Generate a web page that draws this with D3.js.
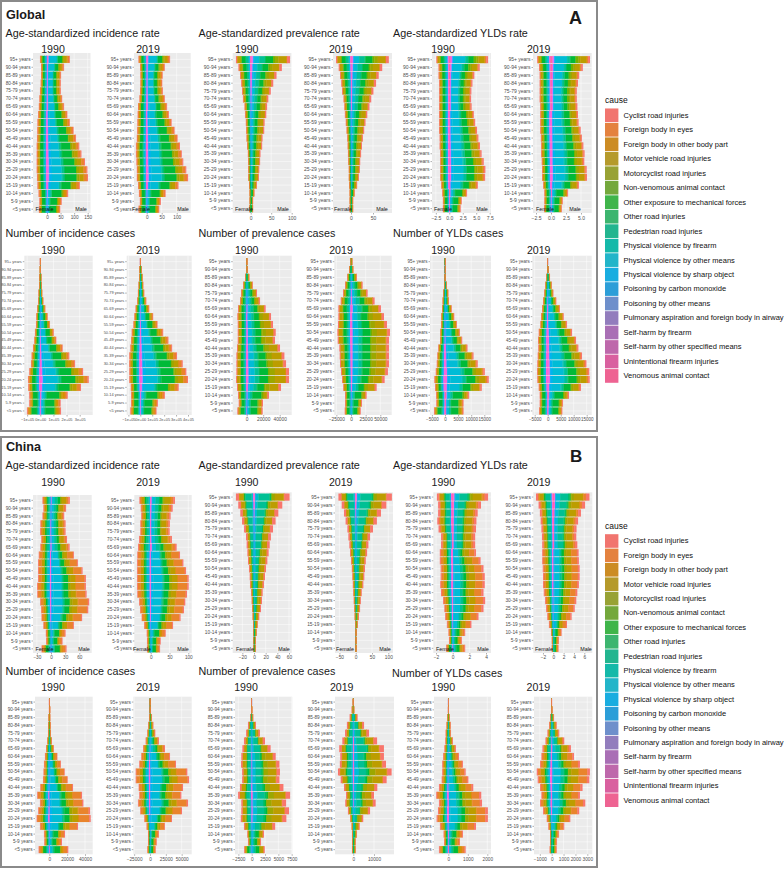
<!DOCTYPE html>
<html>
<head>
<meta charset="utf-8">
<script src="https://cdn.jsdelivr.net/npm/d3@7"></script>
<style>
  html, body { margin: 0; padding: 0; background: #fff; }
  text { font-family: "Liberation Sans", Arial, sans-serif; }
  svg { display: block; }
</style>
</head>
<body>
<div id="my_dataviz"></div>
<script>
// age groups, top to bottom
const ages = ["95+ years","90-94 years","85-89 years","80-84 years","75-79 years","70-74 years","65-69 years",
  "60-64 years","55-59 years","50-54 years","45-49 years","40-44 years","35-39 years","30-34 years",
  "25-29 years","20-24 years","15-19 years","10-14 years","5-9 years","<5 years"];

const causes = ["Cyclist road injuries","Foreign body in eyes","Foreign body in other body part","Motor vehicle road injuries",
  "Motorcyclist road injuries","Non-venomous animal contact","Other exposure to mechanical forces","Other road injuries",
  "Pedestrian road injuries","Physical violence by firearm","Physical violence by other means","Physical violence by sharp object",
  "Poisoning by carbon monoxide","Poisoning by other means","Pulmonary aspiration and foreign body in airway",
  "Self-harm by firearm","Self-harm by other specified means","Unintentional firearm injuries","Venomous animal contact"];

const gIncRate90F = [26,22,22,23,26,28,30,33,35,36,37,38,38,38,38,37,35,31,28,30];
const gIncRate90M = [84,63,52,51,51,56,63,75,84,98,107,119,127,140,149,151,121,78,54,49];
const gIncRate19F = [27,22,21,21,22,24,29,30,31,32,33,36,36,34,33,33,29,26,23,27];
const gIncRate19M = [78,60,53,52,54,60,68,74,83,93,103,111,117,122,132,138,106,63,47,42];
const gPrevRate90F = [36,30,26,23,21,19,15,14,12,11,10,9,7,6.5,6,6,4,2.5,2.5,3];
const gPrevRate90M = [96,76,63,55,49,43,40,38,34,33,29,28,24,23,21,20,15,9,6,6];
const gPrevRate19F = [34,28,25,22,20,17,15,14,12,10,8,7.5,7,6,5,5,4,3,3,3];
const gPrevRate19M = [86,71,63,57,51,46,42,37,33,30,27,25,23,21,20,18,14,8,5,5];
const gYldRate90F = [2.4,2.0,2.0,1.9,1.9,1.9,1.9,1.9,1.9,1.9,1.8,1.8,1.7,1.7,1.7,1.7,1.5,1.3,1.2,1.2];
const gYldRate90M = [7.2,5.65,4.65,4.3,4.1,4.05,4.15,4.55,4.8,5.15,5.4,5.7,6.0,6.4,6.7,6.65,5.3,3.3,2.3,2.1];
const gYldRate19F = [2.3,2.0,1.9,1.9,1.9,1.9,1.8,1.8,1.8,1.8,1.7,1.65,1.65,1.55,1.5,1.5,1.3,1.1,1.1,1.15];
const gYldRate19M = [6.5,5.3,4.7,4.5,4.3,4.3,4.4,4.5,4.6,4.95,5.15,5.4,5.6,5.55,5.95,6.0,4.65,2.85,1.95,1.8];
const gIncNum90F = [3,4,7,8,13,15,23,30,33,41,46,56,66,71,84,94,92,84,84,102];
const gIncNum90M = [3,5,8,10,15,23,38,56,74,102,122,170,221,265,326,369,310,209,155,158];
const gIncNum19F = [3,6,8,14,20,25,39,50,58,72,78,83,92,94,92,92,80,78,78,83];
const gIncNum19M = [3,11,19,25,33,50,75,108,144,192,236,267,308,356,386,400,322,206,147,136];
const gPrevNum90F = [.4,.8,2,4.4,6.9,8.1,10.5,11.3,10.9,10.9,10.9,11.7,12.5,12.5,12.5,12.9,11.7,10.5,9.7,11.3];
const gPrevNum90M = [.8,1.6,3.2,7.3,12.5,16.2,23,29.5,31.9,35.2,34.3,40.4,45.7,47.7,51.3,51.3,41.6,27,19.8,19.4];
const gPrevNum19F = [1.1,3.4,6.3,10.2,13.6,17.6,21.6,21.6,22.2,23.3,22.7,19.9,19.3,18.8,17,15.3,13.1,10.2,10.2,10.8];
const gPrevNum19M = [2.3,4,10.2,19.9,28.4,40.3,51.1,56.3,61.4,66.5,64.8,64.8,64.8,64.8,63,57.4,43.8,26.7,18.8,16.5];
const gYldNum90F = [.03,.06,.12,.38,.63,.89,1.14,1.4,1.52,1.77,1.9,2.53,2.91,3.16,3.54,4.05,3.8,3.42,3.29,4.18];
const gYldNum90M = [.13,.25,.38,.76,1.27,1.52,2.53,3.54,4.56,5.7,6.58,8.6,10.9,12.5,15.2,16.7,14.05,9.24,7.09,7.09];
const gYldNum19F = [.06,.26,.51,.9,1.28,1.79,2.18,2.56,2.82,3.46,3.72,3.59,3.85,3.97,4.1,3.97,3.46,3.08,3.08,3.33];
const gYldNum19M = [.13,.38,.9,1.54,2.18,3.33,4.74,6.15,7.44,9.36,10.9,11.8,13.2,14.9,16,16.15,12.8,8.2,5.9,5.64];

const cIncRate90F = [18,16,18,22.5,23,20.5,22.5,26,27.5,27.5,27.5,29.5,29,23,21,20,16,11,10.5,20];
const cIncRate90M = [40,32,28,31,31,34,39.5,48.5,57,67,74,74,75.5,81,79,66,48.5,31,24.5,33];
const cIncRate19F = [30,26.5,25,27.5,27.5,31,33.5,35.5,36.5,36.5,36.5,36.5,35.5,31,28.5,24,17.5,10.5,10,10];
const cIncRate19M = [64.5,58.5,53,51,50.5,56.5,69,78,87,94,101,101,96.5,92,88.5,79.5,59.5,40,26.5,25];
const cPrevRate90F = [31,27,23.5,20.5,17,13.7,12.6,11.4,10.3,8.6,7.4,6.9,5.1,4,3.4,2.3,1.7,1.1,.6,.6];
const cPrevRate90M = [61,48.5,41.7,37,32.6,29,26.9,25.1,22.9,20.6,18.9,17.1,14.9,13.7,12,9.1,6.3,4.6,3.4,3.4];
const cPrevRate19F = [53,43,36,31,25.5,22.5,19.5,17.5,14.5,12,10,9,7,6,4,3,2,1,1,1];
const cPrevRate19M = [111,94,77.5,65,53,44,39,35,31,28.5,26.5,23.5,18.5,15.5,13.5,10,7,4,3,3];
const cYldRate90F = [1.9,1.75,1.75,1.85,1.7,1.4,1.4,1.55,1.55,1.45,1.45,1.5,1.4,1.15,1,.9,.7,.5,.45,.8];
const cYldRate90M = [4.25,3.4,3,2.85,2.8,2.7,2.7,2.8,3.35,3.7,3.85,3.85,3.7,3.9,3.7,3.1,2.25,1.5,1.1,1.5];
const cYldRate19F = [3.35,2.85,2.6,2.45,2.3,2.2,2.15,2.15,2.15,2.05,2,2,1.85,1.6,1.4,1.15,.85,.45,.3,.3];
const cYldRate19M = [7,6.15,5.35,4.8,4.5,4.45,4.65,4.9,4.95,5.1,5.1,4.95,4.65,4.45,4.15,3.55,2.65,1.6,1.1,1];
const cIncNum90F = [.4,.4,.75,1.1,1.5,2.2,3.7,4.9,6,6.4,7.1,10.1,13.5,10.5,12.4,14.2,10.5,6,5.6,12];
const cIncNum90M = [.75,1.1,1.1,1.5,1.9,3,5.2,9,13.1,17.2,20.6,26.6,36.7,38.2,45.7,46.4,32.2,17.6,14.2,21.3];
const cIncNum19F = [.5,.5,1.6,2.6,4.2,6.8,11,13.7,16.8,22.6,22.6,17.9,16.8,19,15.3,8.9,5.3,3.2,3.2,4.2];
const cIncNum19M = [1,1.6,3.2,5.3,8.4,14.2,23.7,31.6,41,58.9,61.6,52.1,49.5,60,50.5,34.7,23.7,14.2,10.5,8.9];
const cPrevNum90F = [.06,.12,.3,.7,1.05,1.45,1.75,1.95,2,1.8,1.8,2.2,2.55,1.95,1.95,2.05,1.45,.8,.7,1.4];
const cPrevNum90M = [.06,.12,.3,.8,1.55,2.5,3.55,4.5,5.2,5.3,5.2,5.95,7.2,6.45,7,6.5,4.4,2.3,1.75,2.45];
const cPrevNum19F = [.3,.8,1.8,3.1,4,5.3,6.8,6.3,6.5,7.4,6.1,4.5,3.5,3.9,2.6,1.5,.8,.65,.5,.65];
const cPrevNum19M = [.3,.5,2.1,5.2,7.6,11.5,14.8,14.8,15.8,18.5,16.1,11.6,10,10.8,8.1,4.8,3.1,1.8,1.1,1.1];
const cYldNum90F = [.01,.02,.05,.09,.14,.15,.2,.27,.31,.31,.34,.48,.62,.48,.53,.6,.43,.24,.22,.48];
const cYldNum90M = [.02,.03,.07,.12,.14,.24,.39,.55,.75,.89,1.03,1.28,1.69,1.73,2.03,2.03,1.42,.75,.6,.89];
const cYldNum19F = [.03,.06,.14,.22,.36,.53,.78,.87,.98,1.26,1.18,.98,.87,.98,.73,.42,.28,.14,.14,.17];
const cYldNum19M = [.03,.06,.2,.42,.64,1.06,1.62,1.88,2.38,3.22,3.17,2.6,2.38,2.83,2.32,1.57,1.06,.62,.45,.42];

// Cause mix (percent, legend order) estimated from the colour bands, one row
// per measure, sex and age band (old = 65+, adult = 15-64, young = under 15).
const gIncMOld   = [2,7,4,11,4,5,18,2,3,.5,30,4,.3,1.5,1,.2,3,.2,4];
const gIncMAdult = [2,7,1.5,10,5,2,28,3,4,1.5,24,6,.2,1,.3,.1,3.5,.4,1];
const gIncMYoung = [3,7,8,5,2,5,45,3,5,.3,8,2,.1,2.5,1.5,0,.1,.4,2.5];
const gIncFOld   = [1,7,5,10,2,5,25,3,6,.2,18,1,.2,2,2,0,5,.1,5];
const gIncFAdult = [2,8,3,12,3,4,27,4,6,.5,13,2,.3,2,1,.1,9,.1,3];
const gIncFYoung = [3,6,10,6,2,5,40,3,6,.2,7,1,.1,3,2,0,.2,.2,5];
const gPrevMOld   = [7,.5,2,20,9,5,19,3,14,1,11,3,.1,1,1,.2,3,.3,2.5];
const gPrevMAdult = [6,.5,2,24,12,4,19,3,8,1.5,10,3,.1,.5,.2,.2,3,.3,1.5];
const gPrevMYoung = [5,1,3,12,4,6,38,3,8,.2,8,1,.1,1,1,0,.1,.2,4];
const gPrevFOld   = [5,.5,3,18,4,6,25,3,15,.2,7,1,.1,1,1,.1,4,.1,4];
const gPrevFAdult = [5,.5,2.5,22,5,5,22,3,10,.3,8,1,.1,1,.3,.1,6,.1,3];
const gPrevFYoung = [5,1,4,12,3,6,36,3,9,.1,7,.5,.1,1.5,1.5,0,.2,.1,6];
const gYldMOld   = [4,3,2,15,5,7,13,2,6,1,28,3,.2,1,1,.2,3,.3,4];
const gYldMAdult = [3,3,1.5,14,6,3,20,2,6,3,26,6,.2,.7,.2,.2,3.5,.5,1.5];
const gYldMYoung = [3,3,4,8,2,6,38,3,8,.3,10,2,.1,2,2,0,.1,.4,6];
const gYldFOld   = [3,3,3,14,2,7,22,2,10,.3,12,1,.2,1.5,1.5,0,8,.1,7];
const gYldFAdult = [3,3.5,2,16,3,5,20,3,7,.8,12,2,.3,1.5,.5,.1,15,.1,4];
const gYldFYoung = [3,3,5,9,2,6,33,3,8,.2,9,1,.1,3,3,0,.2,.2,8];
const cIncMOld   = [6,10,4,22,6,3,12,3,14,0,14,1,.3,.5,1,0,2,0,3];
const cIncMAdult = [3,25,2,13,6,1.5,12,3,3,.1,24,5,.2,.3,.1,0,1,.1,.7];
const cIncMYoung = [5,18,8,6,3,2,30,3,7,0,11,1,.2,1,1,0,.1,.1,3];
const cIncFOld   = [4,10,5,18,3,3,12,4,18,0,8,.5,.3,1,1,0,6,0,3];
const cIncFAdult = [3,22,3,15,4,2,10,3,6,0,14,2,.3,.5,.2,0,10,0,2];
const cIncFYoung = [4,15,8,8,3,2,25,3,10,0,9,.5,.2,2,2,0,.3,0,6];
const cPrevMOld   = [14,.5,2,24,8,1.5,2,4,30,0,8,.5,.1,.3,.5,0,2,0,2];
const cPrevMAdult = [10,1,2,28,14,1.5,4,5,18,.1,10,1,.1,.3,.2,0,2,0,1.5];
const cPrevMYoung = [6,1,4,18,8,3,25,5,12,0,10,1,.1,1,1,0,.2,0,4];
const cPrevFOld   = [15,.5,2,20,4,2,4,4,33,0,6,.3,.1,.3,.5,0,4,0,3];
const cPrevFAdult = [10,1,3,28,7,2,6,5,22,0,7,.5,.1,.3,.2,0,6,0,2];
const cPrevFYoung = [6,1,5,16,5,3,26,5,14,0,8,.5,.1,1.5,1.5,0,.3,0,6];
const cYldMOld   = [9,7,2,25,7,2,3,4,22,0,12,1,.2,.3,.5,0,3,0,3];
const cYldMAdult = [6,22,2,18,8,1,8,3,7,.1,19,2.5,.2,.3,.2,0,1.5,0,1];
const cYldMYoung = [5,15,7,10,4,2,26,4,9,0,9,.5,.2,1,2,0,.2,0,5];
const cYldFOld   = [10,6,3,20,4,3,5,4,25,0,6,.3,.2,.3,.5,0,8,0,5];
const cYldFAdult = [6,18,3,20,4,2,8,3,10,0,9,.8,.3,.5,.2,0,13,0,2.5];
const cYldFYoung = [5,12,8,10,3,2,22,4,11,0,7,.3,.2,2,3,0,.3,0,9];

const causeColors = ["#F8766D","#E9842C","#D69100","#BC9D00","#9CA700","#6FB100","#00BA38","#00BE6C","#00C094","#00C0B7",
  "#00BCD6","#00B4EF","#00A8FF","#7F96FF","#BC81FF","#E26EF7","#F863DF","#FF62BF","#FF6A9A"];
// the legend keys are visibly duller than the bars
const legendColors = ["#F1756F","#E4823F","#CC8C24","#B59A2B","#98A234","#74A83C","#3FB54A","#3CB56F","#22B58F","#14B9A9",
  "#22B5C9","#19ADE0","#2C9ED8","#6E8FCB","#927DBD","#A96FB5","#BE68AB","#D9609F","#EE6392"];

// page layout
const svg = d3.select("#my_dataviz").append("svg").attr("width", 784).attr("height", 869);

svg.append("rect").attr("x", 1).attr("y", 1).attr("width", 596).attr("height", 430)
  .attr("fill", "none").attr("stroke", "#8a8a8a").attr("stroke-width", 2);
svg.append("rect").attr("x", 1).attr("y", 437).attr("width", 596).attr("height", 430)
  .attr("fill", "none").attr("stroke", "#8a8a8a").attr("stroke-width", 2);

const sectionSize = 10.75;
const headings = [
  ["Global", 6, 19, 12.6, "bold"], ["China", 6, 451, 12.6, "bold"],
  ["A", 569, 24, 18, "bold"], ["B", 570, 462, 17, "bold"],
  ["Age-standardized incidence rate", 5.5, 37, sectionSize], ["Age-standardized prevalence rate", 198.5, 37, sectionSize], ["Age-standardized YLDs rate", 393, 37, sectionSize],
  ["Number of incidence cases", 5.5, 237, sectionSize], ["Number of prevalence cases", 198.5, 237, sectionSize], ["Number of YLDs cases", 393, 237, sectionSize],
  ["Age-standardized incidence rate", 5.5, 469, sectionSize], ["Age-standardized prevalence rate", 198.5, 469, sectionSize], ["Age-standardized YLDs rate", 393, 469, sectionSize],
  ["Number of incidence cases", 5.5, 675, sectionSize], ["Number of prevalence cases", 198.5, 675, sectionSize], ["Number of YLDs cases", 392, 677, sectionSize]
];
svg.selectAll("text.heading").data(headings).join("text").attr("class", "heading")
  .attr("x", d => d[1]).attr("y", d => d[2]).attr("font-size", d => d[3])
  .attr("font-weight", d => d[4] || "normal").attr("fill", "#1a1a1a").text(d => d[0]);

const fmtPlain = d => String(d).replace("-", "\u2212");
const fmtFixed = d => d3.format(".1f")(d).replace("-", "\u2212");
const fmtSci = d => (d === 0 ? "0e+00" : fmtPlain(d / 1e5) + "e+05");

// one entry per panel: pixel box, zero position and a reference tick set the x scale
const panels = [
  // Global, rates
  {f:gIncRate90F, m:gIncRate90M, mix:"gInc", yr:1990, bx:[33,90.5], by:[53,213], cy:[59,209.6], zero:47, ref:[150,87.7], ticks:[0,50,100,150], tx:53, ty:53, sf:4.7, lab:[44.5,81]},
  {f:gIncRate19F, m:gIncRate19M, mix:"gInc", yr:2019, bx:[134,190.7], by:[53,213], cy:[59,209.6], zero:146.7, ref:[100,176.7], ticks:[0,50,100], tx:148, ty:53, sf:4.7, lab:[141,183]},
  {f:gPrevRate90F, m:gPrevRate90M, mix:"gPrev", yr:1990, bx:[232.7,291.7], by:[53,213], cy:[59.3,209], zero:250.7, ref:[100,291.7], ticks:[0,50,100], tx:246.7, ty:53, sf:5, lab:[244,283]},
  {f:gPrevRate19F, m:gPrevRate19M, mix:"gPrev", yr:2019, bx:[333,392], by:[53,213], cy:[59.3,209], zero:351, ref:[50,373], ticks:[0,50], tx:340.7, ty:53, sf:5, lab:[343,382]},
  {f:gYldRate90F, m:gYldRate90M, mix:"gYld", yr:1990, bx:[432,491], by:[53,213], cy:[59.3,209], zero:449.3, ref:[7.5,489.7], ticks:[-2.5,0,2.5,5,7.5], tx:443, ty:53, sf:5, lab:[443,482], fmt:fmtFixed},
  {f:gYldRate19F, m:gYldRate19M, mix:"gYld", yr:2019, bx:[533,591.7], by:[53,213], cy:[59.3,209], zero:551, ref:[5,581], ticks:[-2.5,0,2.5,5], tx:538.7, ty:53, sf:5, lab:[545,575], fmt:fmtFixed},
  // Global, numbers
  {f:gIncNum90F, m:gIncNum90M, mix:"gInc", yr:1990, unit:1000, bx:[24.3,92.7], by:[255.7,415], cy:[261.3,411.3], zero:40.3, ref:[300000,79.7], ticks:[-100000,0,100000,200000,300000], tx:53, ty:253.5, sf:3.9, fmt:fmtSci},
  {f:gIncNum19F, m:gIncNum19M, mix:"gInc", yr:2019, unit:1000, bx:[126.7,191.7], by:[255.7,415], cy:[261.3,411.3], zero:140.3, ref:[400000,188], ticks:[-100000,0,100000,200000,300000,400000], tx:148, ty:253.5, sf:3.9, fmt:fmtSci},
  {f:gPrevNum90F, m:gPrevNum90M, mix:"gPrev", yr:1990, unit:1000, bx:[232.7,291.7], by:[255.7,415], cy:[261.3,411.3], zero:246.7, ref:[40000,279.7], ticks:[0,20000,40000], tx:246.7, ty:253.5, sf:4.8},
  {f:gPrevNum19F, m:gPrevNum19M, mix:"gPrev", yr:2019, unit:1000, bx:[334.3,391.7], by:[255.7,415], cy:[261.3,411.3], zero:351, ref:[50000,380.3], ticks:[-25000,0,25000,50000], tx:341, ty:253.5, sf:4.8},
  {f:gYldNum90F, m:gYldNum90M, mix:"gYld", yr:1990, unit:1000, bx:[430,491], by:[255.7,415], cy:[261.3,411.3], zero:445, ref:[15000,484.3], ticks:[-5000,0,5000,10000,15000], tx:443, ty:253.5, sf:4.5},
  {f:gYldNum19F, m:gYldNum19M, mix:"gYld", yr:2019, unit:1000, bx:[532.3,591.7], by:[255.7,415], cy:[261.3,411.3], zero:547.7, ref:[15000,586.7], ticks:[-5000,0,5000,10000,15000], tx:538.7, ty:253.5, sf:4.5},
  // China, rates
  {f:cIncRate90F, m:cIncRate90M, mix:"cInc", yr:1990, bx:[33,91.7], by:[495,653], cy:[500,649.2], zero:51, ref:[60,79.3], ticks:[-30,0,30,60], tx:53, ty:486, sf:4.7, lab:[44.5,84]},
  {f:cIncRate19F, m:cIncRate19M, mix:"cInc", yr:2019, bx:[134.3,191.7], by:[495,653], cy:[500,649.2], zero:150.7, ref:[100,188.3], ticks:[0,50,100], tx:148, ty:486, sf:4.7, lab:[142,183]},
  {f:cPrevRate90F, m:cPrevRate90M, mix:"cPrev", yr:1990, bx:[232.7,291.7], by:[492.3,653], cy:[496.7,648.7], zero:254, ref:[60,289], ticks:[-20,0,20,40,60], tx:246.7, ty:486, sf:4.8, lab:[245,284]},
  {f:cPrevRate19F, m:cPrevRate19M, mix:"cPrev", yr:2019, bx:[335,393], by:[492.3,653], cy:[496.7,648.7], zero:355.7, ref:[100,388.3], ticks:[-50,0,50,100], tx:340.7, ty:486, sf:4.8, lab:[345,385]},
  {f:cYldRate90F, m:cYldRate90M, mix:"cYld", yr:1990, bx:[433.3,491], by:[492.3,653], cy:[496.7,648.7], zero:452.7, ref:[4,486], ticks:[-2,0,2,4], tx:443.3, ty:485.5, sf:4.8, lab:[445,483]},
  {f:cYldRate19F, m:cYldRate19M, mix:"cYld", yr:2019, bx:[533.3,592.3], by:[492.3,653], cy:[496.7,648.7], zero:553.3, ref:[6,584.3], ticks:[-2,0,2,4,6], tx:538.7, ty:485.5, sf:4.8, lab:[544,586]},
  // China, numbers
  {f:cIncNum90F, m:cIncNum90M, mix:"cInc", yr:1990, unit:1000, bx:[35,92.7], by:[696.7,854.3], cy:[701.7,850], zero:49.3, ref:[40000,85], ticks:[0,20000,40000], tx:53, ty:691, sf:4.7},
  {f:cIncNum19F, m:cIncNum19M, mix:"cInc", yr:2019, unit:1000, bx:[133.3,191.7], by:[696.7,854.3], cy:[701.7,850], zero:150, ref:[50000,181.7], ticks:[-25000,0,25000,50000], tx:148, ty:691, sf:4.7},
  {f:cPrevNum90F, m:cPrevNum90M, mix:"cPrev", yr:1990, unit:1000, bx:[235,292.3], by:[696.7,854.3], cy:[701.7,850], zero:251.7, ref:[7500,291.7], ticks:[-2500,0,2500,5000,7500], tx:246, ty:691, sf:4.7},
  {f:cPrevNum19F, m:cPrevNum19M, mix:"cPrev", yr:2019, unit:1000, bx:[335,394], by:[696.7,854.3], cy:[701.7,850], zero:353.3, ref:[10000,374], ticks:[0,10000], tx:341.7, ty:691, sf:4.7},
  {f:cYldNum90F, m:cYldNum90M, mix:"cYld", yr:1990, unit:1000, bx:[434,491], by:[696.7,854.3], cy:[701.7,850], zero:448.3, ref:[2000,487.3], ticks:[0,1000,2000], tx:443.3, ty:691, sf:4.7},
  {f:cYldNum19F, m:cYldNum19M, mix:"cYld", yr:2019, unit:1000, bx:[534,592.3], by:[696.7,854.3], cy:[701.7,850], zero:551.7, ref:[3000,587.3], ticks:[-1000,0,1000,2000,3000], tx:538.3, ty:691, sf:4.7}
];

const mixes = {
  gIncM:[gIncMOld,gIncMAdult,gIncMYoung], gIncF:[gIncFOld,gIncFAdult,gIncFYoung],
  gPrevM:[gPrevMOld,gPrevMAdult,gPrevMYoung], gPrevF:[gPrevFOld,gPrevFAdult,gPrevFYoung],
  gYldM:[gYldMOld,gYldMAdult,gYldMYoung], gYldF:[gYldFOld,gYldFAdult,gYldFYoung],
  cIncM:[cIncMOld,cIncMAdult,cIncMYoung], cIncF:[cIncFOld,cIncFAdult,cIncFYoung],
  cPrevM:[cPrevMOld,cPrevMAdult,cPrevMYoung], cPrevF:[cPrevFOld,cPrevFAdult,cPrevFYoung],
  cYldM:[cYldMOld,cYldMAdult,cYldMYoung], cYldF:[cYldFOld,cYldFAdult,cYldFYoung]
};
const band = i => (i <= 6 ? 0 : i <= 16 ? 1 : 2);

// stack order: Venomous next to the zero line, Cyclist at the outer end
const stack = d3.stack().keys(causes.slice().reverse()).offset(d3.stackOffsetDiverging);

function splitRow(age, i, total, sign, mixRows, unit) {
  const mix = mixRows[band(i)], sum = d3.sum(mix), row = {age};
  causes.forEach((c, k) => { row[c] = sign * total * unit * mix[k] / sum; });
  return row;
}

// each segment reaches a little under its inner neighbour so no seam shows
const seam = 0.35;

panels.forEach(p => {
  const unit = p.unit || 1;
  const g = svg.append("g");
  const x = d3.scaleLinear().domain([0, p.ref[0]]).range([p.zero, p.ref[1]]);
  const step = (p.cy[1] - p.cy[0]) / (ages.length - 1);
  const y = d3.scaleBand().domain(ages).range([p.cy[0] - step / 2, p.cy[1] + step / 2]).padding(0.1);

  g.append("text").attr("x", p.tx).attr("y", p.ty).attr("text-anchor", "middle")
    .attr("font-size", 10.6).attr("fill", "#222").text(p.yr);

  // grey panel and white grid
  g.append("rect").attr("x", p.bx[0]).attr("y", p.by[0])
    .attr("width", p.bx[1] - p.bx[0]).attr("height", p.by[1] - p.by[0]).attr("fill", "#EBEBEB");
  g.selectAll("line.gx").data(p.ticks).join("line").attr("class", "gx")
    .attr("x1", d => x(d)).attr("x2", d => x(d)).attr("y1", p.by[0]).attr("y2", p.by[1])
    .attr("stroke", "#fff").attr("stroke-width", 0.5);
  g.selectAll("line.gy").data(ages).join("line").attr("class", "gy")
    .attr("x1", p.bx[0]).attr("x2", p.bx[1])
    .attr("y1", d => y(d) + y.bandwidth() / 2).attr("y2", d => y(d) + y.bandwidth() / 2)
    .attr("stroke", "#fff").attr("stroke-width", 0.5);

  const rows = [];
  ages.forEach((a, i) => {
    rows.push(splitRow(a, i, p.f[i], -1, mixes[p.mix + "F"], unit));
    rows.push(splitRow(a, i, p.m[i], 1, mixes[p.mix + "M"], unit));
  });

  g.selectAll("g.cause").data(stack(rows)).join("g").attr("class", "cause")
    .attr("fill", d => causeColors[causes.indexOf(d.key)])
    .selectAll("rect").data(d => d).join("rect")
      .attr("x", d => x(Math.min(d[0], d[1])) - (d[1] > 0 ? seam : 0))
      .attr("width", d => (d[1] === d[0] ? 0 : Math.abs(x(d[1]) - x(d[0])) + seam))
      .attr("y", d => y(d.data.age))
      .attr("height", y.bandwidth());

  // axes
  const xAxis = g.append("g").attr("transform", `translate(0,${p.by[1]})`)
    .call(d3.axisBottom(x).tickValues(p.ticks).tickFormat(p.fmt || fmtPlain).tickSize(1.5).tickPadding(1.5));
  const yAxis = g.append("g").attr("transform", `translate(${p.bx[0]},0)`)
    .call(d3.axisLeft(y).tickSize(1.5).tickPadding(1));
  [xAxis, yAxis].forEach(a => {
    a.select(".domain").remove();
    a.selectAll("line").attr("stroke", "#333").attr("stroke-width", 0.4);
    a.selectAll("text").attr("fill", "#4D4D4D").attr("font-size", p.sf).attr("font-family", '"Liberation Sans", Arial, sans-serif');
  });

  // Female / Male labels on the top row of each figure
  if (p.lab) {
    ["Female", "Male"].forEach((s, i) => {
      g.append("text").attr("x", p.lab[i]).attr("y", p.cy[1] + 1.8).attr("text-anchor", "middle")
        .attr("font-size", 5.4).attr("fill", "#111").text(s);
    });
  }
});

// legends
[[100, 115.3, 14.48], [526, 541, 14.4]].forEach(([titleY, y0, dy]) => {
  const lg = svg.append("g");
  lg.append("text").attr("x", 605).attr("y", titleY + 3).attr("font-size", 8.5).attr("fill", "#111").text("cause");
  causes.forEach((c, i) => {
    lg.append("rect").attr("x", 605).attr("y", y0 + i * dy - dy / 2 + 0.4)
      .attr("width", 13.4).attr("height", dy - 0.8).attr("fill", legendColors[i]);
    lg.append("text").attr("x", 623.5).attr("y", y0 + i * dy + 2.4)
      .attr("font-size", 7.5).attr("fill", "#111").text(c);
  });
});
</script>
</body>
</html>
